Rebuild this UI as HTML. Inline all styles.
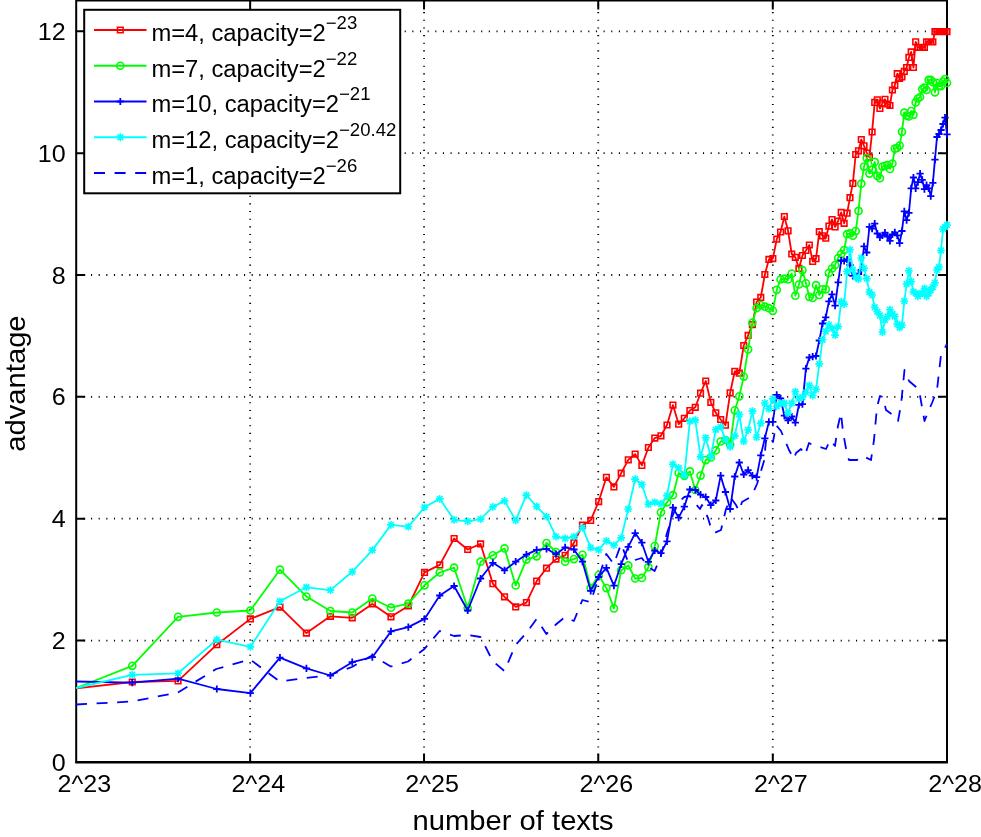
<!DOCTYPE html><html><head><meta charset="utf-8"><style>html,body{margin:0;padding:0;background:#fff;}svg{display:block;will-change:transform;}text{font-family:"Liberation Sans",sans-serif;}</style></head><body>
<svg width="981" height="837" viewBox="0 0 981 837">
<rect x="0" y="0" width="981" height="837" fill="#fff"/>
<path d="M75.70 640.55H947.00M75.70 518.70H947.00M75.70 396.85H947.00M75.70 275.00H947.00M75.70 153.15H947.00M75.70 31.30H947.00M250.15 762.90V0.60M424.05 762.90V0.60M598.25 762.90V0.60M772.80 762.90V0.60" stroke="#000" stroke-width="1.8" stroke-dasharray="1.1 6.55" fill="none"/>
<path d="M76.20 640.55h9M947.00 640.55h-9M76.20 518.70h9M947.00 518.70h-9M76.20 396.85h9M947.00 396.85h-9M76.20 275.00h9M947.00 275.00h-9M76.20 153.15h9M947.00 153.15h-9M76.20 31.30h9M947.00 31.30h-9M250.15 762.40v-9M250.15 0.60v9M424.05 762.40v-9M424.05 0.60v9M598.25 762.40v-9M598.25 0.60v9M772.80 762.40v-9M772.80 0.60v9" stroke="#000" stroke-width="2" fill="none"/>
<path d="M76.20 -0.40V762.40M947.00 -0.40V762.40M75.20 0.60H948.00" stroke="#000" stroke-width="2" fill="none"/>
<path d="M75.20 762.2H947.90" stroke="#000" stroke-width="2.5" fill="none"/>
<text transform="translate(65.6,770.99) scale(1.046,1)" font-size="24" text-anchor="end">0</text>
<text transform="translate(65.6,649.14) scale(1.046,1)" font-size="24" text-anchor="end">2</text>
<text transform="translate(65.6,527.29) scale(1.046,1)" font-size="24" text-anchor="end">4</text>
<text transform="translate(65.6,405.44) scale(1.046,1)" font-size="24" text-anchor="end">6</text>
<text transform="translate(65.6,283.59) scale(1.046,1)" font-size="24" text-anchor="end">8</text>
<text transform="translate(65.6,161.74) scale(1.046,1)" font-size="24" text-anchor="end">10</text>
<text transform="translate(65.6,39.89) scale(1.046,1)" font-size="24" text-anchor="end">12</text>
<text transform="translate(57.50,792) scale(1.046,1)" font-size="24">2^23</text>
<text transform="translate(231.45,792) scale(1.046,1)" font-size="24">2^24</text>
<text transform="translate(405.35,792) scale(1.046,1)" font-size="24">2^25</text>
<text transform="translate(579.55,792) scale(1.046,1)" font-size="24">2^26</text>
<text transform="translate(754.10,792) scale(1.046,1)" font-size="24">2^27</text>
<text transform="translate(928.30,792) scale(1.046,1)" font-size="24">2^28</text>
<text transform="translate(513.1,830) scale(1.035,1)" font-size="28.2" text-anchor="middle">number of texts</text>
<text transform="translate(25,383.55) rotate(-90) scale(1.035,1)" font-size="28.2" text-anchor="middle">advantage</text>
<polyline points="76.20,688.40 132.27,682.00 178.08,680.90 216.81,644.70 250.36,618.90 279.95,607.10 306.43,633.10 330.37,616.30 352.24,617.80 372.35,603.90 390.97,616.80 408.30,606.00 424.52,572.40 439.75,564.90 454.11,538.50 467.70,549.50 480.59,543.90 492.85,583.70 504.53,596.80 515.70,606.90 526.40,602.60 536.65,581.10 546.51,568.20 555.99,559.10 565.13,555.30 573.95,542.80 582.46,525.20 590.70,520.40 598.68,501.60 606.41,477.30 613.91,486.90 621.20,473.20 628.27,459.80 635.16,454.10 641.86,465.40 648.39,447.50 654.75,438.10 660.95,435.80 667.01,425.00 672.92,405.10 678.69,424.20 684.34,418.30 689.86,410.50 695.27,407.30 700.56,393.20 705.74,381.00 710.81,402.30 715.79,412.80 720.67,419.50 725.45,425.20 730.15,392.80 734.76,371.30 739.29,373.20 743.74,345.50 748.11,335.40 752.40,324.60 756.62,302.00 760.78,297.40 764.86,274.50 768.88,259.40 772.84,258.60 776.74,239.20 780.57,232.00 784.35,216.50 788.07,230.80 791.74,254.00 795.36,257.30 798.92,268.40 802.43,255.50 805.90,250.50 809.32,245.00 812.69,261.40 816.02,258.70 819.30,231.70 822.55,235.80 825.75,238.20 828.91,226.10 832.03,219.50 835.11,226.90 838.16,221.00 841.17,212.40 844.14,223.30 847.08,213.20 849.98,197.70 852.85,183.40 855.69,154.50 858.50,150.80 861.28,139.50 864.02,145.80 866.74,153.00 869.43,157.30 872.09,132.00 874.72,102.40 877.32,99.80 879.90,108.50 882.45,103.20 884.97,99.30 887.47,104.00 889.95,105.50 892.40,90.00 894.83,85.30 897.23,73.70 899.61,78.30 901.97,76.80 904.31,71.40 906.63,67.50 908.92,57.40 911.20,51.90 913.45,67.50 915.68,41.80 917.90,47.30 920.09,47.30 922.27,47.30 924.42,47.30 926.56,41.80 928.68,41.80 930.78,41.80 932.87,41.80 934.94,31.70 936.99,31.70 939.02,31.70 941.04,31.70 943.04,31.70 945.03,31.70 947.00,31.70" fill="none" stroke="#ff0000" stroke-width="1.8" stroke-linejoin="round" stroke-linecap="butt" />
<path d="M129.47 679.20h5.6v5.6h-5.6zM175.28 678.10h5.6v5.6h-5.6zM214.01 641.90h5.6v5.6h-5.6zM247.56 616.10h5.6v5.6h-5.6zM277.15 604.30h5.6v5.6h-5.6zM303.63 630.30h5.6v5.6h-5.6zM327.57 613.50h5.6v5.6h-5.6zM349.44 615.00h5.6v5.6h-5.6zM369.55 601.10h5.6v5.6h-5.6zM388.17 614.00h5.6v5.6h-5.6zM405.50 603.20h5.6v5.6h-5.6zM421.72 569.60h5.6v5.6h-5.6zM436.95 562.10h5.6v5.6h-5.6zM451.31 535.70h5.6v5.6h-5.6zM464.90 546.70h5.6v5.6h-5.6zM477.79 541.10h5.6v5.6h-5.6zM490.05 580.90h5.6v5.6h-5.6zM501.73 594.00h5.6v5.6h-5.6zM512.90 604.10h5.6v5.6h-5.6zM523.60 599.80h5.6v5.6h-5.6zM533.85 578.30h5.6v5.6h-5.6zM543.71 565.40h5.6v5.6h-5.6zM553.19 556.30h5.6v5.6h-5.6zM562.33 552.50h5.6v5.6h-5.6zM571.15 540.00h5.6v5.6h-5.6zM579.66 522.40h5.6v5.6h-5.6zM587.90 517.60h5.6v5.6h-5.6zM595.88 498.80h5.6v5.6h-5.6zM603.61 474.50h5.6v5.6h-5.6zM611.11 484.10h5.6v5.6h-5.6zM618.40 470.40h5.6v5.6h-5.6zM625.47 457.00h5.6v5.6h-5.6zM632.36 451.30h5.6v5.6h-5.6zM639.06 462.60h5.6v5.6h-5.6zM645.59 444.70h5.6v5.6h-5.6zM651.95 435.30h5.6v5.6h-5.6zM658.15 433.00h5.6v5.6h-5.6zM664.21 422.20h5.6v5.6h-5.6zM670.12 402.30h5.6v5.6h-5.6zM675.89 421.40h5.6v5.6h-5.6zM681.54 415.50h5.6v5.6h-5.6zM687.06 407.70h5.6v5.6h-5.6zM692.47 404.50h5.6v5.6h-5.6zM697.76 390.40h5.6v5.6h-5.6zM702.94 378.20h5.6v5.6h-5.6zM708.01 399.50h5.6v5.6h-5.6zM712.99 410.00h5.6v5.6h-5.6zM717.87 416.70h5.6v5.6h-5.6zM722.65 422.40h5.6v5.6h-5.6zM727.35 390.00h5.6v5.6h-5.6zM731.96 368.50h5.6v5.6h-5.6zM736.49 370.40h5.6v5.6h-5.6zM740.94 342.70h5.6v5.6h-5.6zM745.31 332.60h5.6v5.6h-5.6zM749.60 321.80h5.6v5.6h-5.6zM753.82 299.20h5.6v5.6h-5.6zM757.98 294.60h5.6v5.6h-5.6zM762.06 271.70h5.6v5.6h-5.6zM766.08 256.60h5.6v5.6h-5.6zM770.04 255.80h5.6v5.6h-5.6zM773.94 236.40h5.6v5.6h-5.6zM777.77 229.20h5.6v5.6h-5.6zM781.55 213.70h5.6v5.6h-5.6zM785.27 228.00h5.6v5.6h-5.6zM788.94 251.20h5.6v5.6h-5.6zM792.56 254.50h5.6v5.6h-5.6zM796.12 265.60h5.6v5.6h-5.6zM799.63 252.70h5.6v5.6h-5.6zM803.10 247.70h5.6v5.6h-5.6zM806.52 242.20h5.6v5.6h-5.6zM809.89 258.60h5.6v5.6h-5.6zM813.22 255.90h5.6v5.6h-5.6zM816.50 228.90h5.6v5.6h-5.6zM819.75 233.00h5.6v5.6h-5.6zM822.95 235.40h5.6v5.6h-5.6zM826.11 223.30h5.6v5.6h-5.6zM829.23 216.70h5.6v5.6h-5.6zM832.31 224.10h5.6v5.6h-5.6zM835.36 218.20h5.6v5.6h-5.6zM838.37 209.60h5.6v5.6h-5.6zM841.34 220.50h5.6v5.6h-5.6zM844.28 210.40h5.6v5.6h-5.6zM847.18 194.90h5.6v5.6h-5.6zM850.05 180.60h5.6v5.6h-5.6zM852.89 151.70h5.6v5.6h-5.6zM855.70 148.00h5.6v5.6h-5.6zM858.48 136.70h5.6v5.6h-5.6zM861.22 143.00h5.6v5.6h-5.6zM863.94 150.20h5.6v5.6h-5.6zM866.63 154.50h5.6v5.6h-5.6zM869.29 129.20h5.6v5.6h-5.6zM871.92 99.60h5.6v5.6h-5.6zM874.52 97.00h5.6v5.6h-5.6zM877.10 105.70h5.6v5.6h-5.6zM879.65 100.40h5.6v5.6h-5.6zM882.17 96.50h5.6v5.6h-5.6zM884.67 101.20h5.6v5.6h-5.6zM887.15 102.70h5.6v5.6h-5.6zM889.60 87.20h5.6v5.6h-5.6zM892.03 82.50h5.6v5.6h-5.6zM894.43 70.90h5.6v5.6h-5.6zM896.81 75.50h5.6v5.6h-5.6zM899.17 74.00h5.6v5.6h-5.6zM901.51 68.60h5.6v5.6h-5.6zM903.83 64.70h5.6v5.6h-5.6zM906.12 54.60h5.6v5.6h-5.6zM908.40 49.10h5.6v5.6h-5.6zM910.65 64.70h5.6v5.6h-5.6zM912.88 39.00h5.6v5.6h-5.6zM915.10 44.50h5.6v5.6h-5.6zM917.29 44.50h5.6v5.6h-5.6zM919.47 44.50h5.6v5.6h-5.6zM921.62 44.50h5.6v5.6h-5.6zM923.76 39.00h5.6v5.6h-5.6zM925.88 39.00h5.6v5.6h-5.6zM927.98 39.00h5.6v5.6h-5.6zM930.07 39.00h5.6v5.6h-5.6zM932.14 28.90h5.6v5.6h-5.6zM934.19 28.90h5.6v5.6h-5.6zM936.22 28.90h5.6v5.6h-5.6zM938.24 28.90h5.6v5.6h-5.6zM940.24 28.90h5.6v5.6h-5.6zM942.23 28.90h5.6v5.6h-5.6zM944.20 28.90h5.6v5.6h-5.6z" fill="none" stroke="#ff0000" stroke-width="1.6"/>
<polyline points="76.20,688.00 132.27,665.80 178.08,616.80 216.81,612.50 250.36,610.50 279.95,569.70 306.43,596.60 330.37,611.00 352.24,612.50 372.35,598.50 390.97,607.70 408.30,603.70 424.52,585.30 439.75,572.50 454.11,567.70 467.70,608.00 480.59,561.70 492.85,555.30 504.53,548.40 515.70,585.40 526.40,559.60 536.65,556.30 546.51,543.00 555.99,552.00 565.13,561.70 573.95,559.10 582.46,554.80 590.70,588.00 598.68,575.00 606.41,588.10 613.91,608.40 621.20,570.20 628.27,565.40 635.16,578.50 641.86,577.90 648.39,567.20 654.75,546.00 660.95,512.30 667.01,502.30 672.92,495.20 678.69,473.00 684.34,475.80 689.86,471.40 695.27,490.00 700.56,475.60 705.74,460.10 710.81,457.40 715.79,450.40 720.67,441.50 725.45,440.00 730.15,444.60 734.76,410.30 739.29,396.30 743.74,376.60 748.11,349.40 752.40,322.70 756.62,308.20 760.78,305.10 764.86,306.70 768.88,308.20 772.84,310.80 776.74,289.80 780.57,279.50 784.35,278.70 788.07,279.50 791.74,273.60 795.36,295.70 798.92,284.50 802.43,270.20 805.90,283.30 809.32,296.80 812.69,298.00 816.02,285.20 819.30,295.00 822.55,289.30 825.75,289.30 828.91,273.00 832.03,268.50 835.11,265.00 838.16,258.00 841.17,254.00 844.14,250.00 847.08,234.20 849.98,233.40 852.85,235.70 855.69,231.10 858.50,210.90 861.28,183.70 864.02,166.60 866.74,158.10 869.43,173.60 872.09,169.70 874.72,161.90 877.32,175.90 879.90,178.20 882.45,166.60 884.97,165.80 887.47,165.00 889.95,168.90 892.40,163.50 894.83,148.70 897.23,148.00 899.61,145.60 901.97,131.80 904.31,112.70 906.63,115.60 908.92,116.40 911.20,111.00 913.45,114.80 915.68,102.40 917.90,98.50 920.09,97.00 922.27,89.20 924.42,87.70 926.56,90.00 928.68,79.90 930.78,79.90 932.87,82.20 934.94,92.30 936.99,83.00 939.02,86.10 941.04,86.10 943.04,81.50 945.03,79.10 947.00,83.00" fill="none" stroke="#00ff00" stroke-width="1.8" stroke-linejoin="round" stroke-linecap="butt" />
<g fill="none" stroke="#00ff00" stroke-width="1.6"><circle cx="132.27" cy="665.80" r="3.55"/><circle cx="178.08" cy="616.80" r="3.55"/><circle cx="216.81" cy="612.50" r="3.55"/><circle cx="250.36" cy="610.50" r="3.55"/><circle cx="279.95" cy="569.70" r="3.55"/><circle cx="306.43" cy="596.60" r="3.55"/><circle cx="330.37" cy="611.00" r="3.55"/><circle cx="352.24" cy="612.50" r="3.55"/><circle cx="372.35" cy="598.50" r="3.55"/><circle cx="390.97" cy="607.70" r="3.55"/><circle cx="408.30" cy="603.70" r="3.55"/><circle cx="424.52" cy="585.30" r="3.55"/><circle cx="439.75" cy="572.50" r="3.55"/><circle cx="454.11" cy="567.70" r="3.55"/><circle cx="467.70" cy="608.00" r="3.55"/><circle cx="480.59" cy="561.70" r="3.55"/><circle cx="492.85" cy="555.30" r="3.55"/><circle cx="504.53" cy="548.40" r="3.55"/><circle cx="515.70" cy="585.40" r="3.55"/><circle cx="526.40" cy="559.60" r="3.55"/><circle cx="536.65" cy="556.30" r="3.55"/><circle cx="546.51" cy="543.00" r="3.55"/><circle cx="555.99" cy="552.00" r="3.55"/><circle cx="565.13" cy="561.70" r="3.55"/><circle cx="573.95" cy="559.10" r="3.55"/><circle cx="582.46" cy="554.80" r="3.55"/><circle cx="590.70" cy="588.00" r="3.55"/><circle cx="598.68" cy="575.00" r="3.55"/><circle cx="606.41" cy="588.10" r="3.55"/><circle cx="613.91" cy="608.40" r="3.55"/><circle cx="621.20" cy="570.20" r="3.55"/><circle cx="628.27" cy="565.40" r="3.55"/><circle cx="635.16" cy="578.50" r="3.55"/><circle cx="641.86" cy="577.90" r="3.55"/><circle cx="648.39" cy="567.20" r="3.55"/><circle cx="654.75" cy="546.00" r="3.55"/><circle cx="660.95" cy="512.30" r="3.55"/><circle cx="667.01" cy="502.30" r="3.55"/><circle cx="672.92" cy="495.20" r="3.55"/><circle cx="678.69" cy="473.00" r="3.55"/><circle cx="684.34" cy="475.80" r="3.55"/><circle cx="689.86" cy="471.40" r="3.55"/><circle cx="695.27" cy="490.00" r="3.55"/><circle cx="700.56" cy="475.60" r="3.55"/><circle cx="705.74" cy="460.10" r="3.55"/><circle cx="710.81" cy="457.40" r="3.55"/><circle cx="715.79" cy="450.40" r="3.55"/><circle cx="720.67" cy="441.50" r="3.55"/><circle cx="725.45" cy="440.00" r="3.55"/><circle cx="730.15" cy="444.60" r="3.55"/><circle cx="734.76" cy="410.30" r="3.55"/><circle cx="739.29" cy="396.30" r="3.55"/><circle cx="743.74" cy="376.60" r="3.55"/><circle cx="748.11" cy="349.40" r="3.55"/><circle cx="752.40" cy="322.70" r="3.55"/><circle cx="756.62" cy="308.20" r="3.55"/><circle cx="760.78" cy="305.10" r="3.55"/><circle cx="764.86" cy="306.70" r="3.55"/><circle cx="768.88" cy="308.20" r="3.55"/><circle cx="772.84" cy="310.80" r="3.55"/><circle cx="776.74" cy="289.80" r="3.55"/><circle cx="780.57" cy="279.50" r="3.55"/><circle cx="784.35" cy="278.70" r="3.55"/><circle cx="788.07" cy="279.50" r="3.55"/><circle cx="791.74" cy="273.60" r="3.55"/><circle cx="795.36" cy="295.70" r="3.55"/><circle cx="798.92" cy="284.50" r="3.55"/><circle cx="802.43" cy="270.20" r="3.55"/><circle cx="805.90" cy="283.30" r="3.55"/><circle cx="809.32" cy="296.80" r="3.55"/><circle cx="812.69" cy="298.00" r="3.55"/><circle cx="816.02" cy="285.20" r="3.55"/><circle cx="819.30" cy="295.00" r="3.55"/><circle cx="822.55" cy="289.30" r="3.55"/><circle cx="825.75" cy="289.30" r="3.55"/><circle cx="828.91" cy="273.00" r="3.55"/><circle cx="832.03" cy="268.50" r="3.55"/><circle cx="835.11" cy="265.00" r="3.55"/><circle cx="838.16" cy="258.00" r="3.55"/><circle cx="841.17" cy="254.00" r="3.55"/><circle cx="844.14" cy="250.00" r="3.55"/><circle cx="847.08" cy="234.20" r="3.55"/><circle cx="849.98" cy="233.40" r="3.55"/><circle cx="852.85" cy="235.70" r="3.55"/><circle cx="855.69" cy="231.10" r="3.55"/><circle cx="858.50" cy="210.90" r="3.55"/><circle cx="861.28" cy="183.70" r="3.55"/><circle cx="864.02" cy="166.60" r="3.55"/><circle cx="866.74" cy="158.10" r="3.55"/><circle cx="869.43" cy="173.60" r="3.55"/><circle cx="872.09" cy="169.70" r="3.55"/><circle cx="874.72" cy="161.90" r="3.55"/><circle cx="877.32" cy="175.90" r="3.55"/><circle cx="879.90" cy="178.20" r="3.55"/><circle cx="882.45" cy="166.60" r="3.55"/><circle cx="884.97" cy="165.80" r="3.55"/><circle cx="887.47" cy="165.00" r="3.55"/><circle cx="889.95" cy="168.90" r="3.55"/><circle cx="892.40" cy="163.50" r="3.55"/><circle cx="894.83" cy="148.70" r="3.55"/><circle cx="897.23" cy="148.00" r="3.55"/><circle cx="899.61" cy="145.60" r="3.55"/><circle cx="901.97" cy="131.80" r="3.55"/><circle cx="904.31" cy="112.70" r="3.55"/><circle cx="906.63" cy="115.60" r="3.55"/><circle cx="908.92" cy="116.40" r="3.55"/><circle cx="911.20" cy="111.00" r="3.55"/><circle cx="913.45" cy="114.80" r="3.55"/><circle cx="915.68" cy="102.40" r="3.55"/><circle cx="917.90" cy="98.50" r="3.55"/><circle cx="920.09" cy="97.00" r="3.55"/><circle cx="922.27" cy="89.20" r="3.55"/><circle cx="924.42" cy="87.70" r="3.55"/><circle cx="926.56" cy="90.00" r="3.55"/><circle cx="928.68" cy="79.90" r="3.55"/><circle cx="930.78" cy="79.90" r="3.55"/><circle cx="932.87" cy="82.20" r="3.55"/><circle cx="934.94" cy="92.30" r="3.55"/><circle cx="936.99" cy="83.00" r="3.55"/><circle cx="939.02" cy="86.10" r="3.55"/><circle cx="941.04" cy="86.10" r="3.55"/><circle cx="943.04" cy="81.50" r="3.55"/><circle cx="945.03" cy="79.10" r="3.55"/><circle cx="947.00" cy="83.00" r="3.55"/></g>
<polyline points="76.20,681.50 132.27,682.60 178.08,678.70 216.81,689.00 250.36,693.10 279.95,657.60 306.43,668.40 330.37,675.50 352.24,662.20 372.35,657.20 390.97,631.40 408.30,627.10 424.52,618.90 439.75,595.50 454.11,586.00 467.70,610.50 480.59,578.50 492.85,562.80 504.53,570.30 515.70,561.70 526.40,554.60 536.65,549.90 546.51,548.80 555.99,554.20 565.13,547.30 573.95,549.50 582.46,561.70 590.70,590.80 598.68,577.00 606.41,567.80 613.91,585.70 621.20,564.20 628.27,546.90 635.16,533.10 641.86,542.70 648.39,561.80 654.75,550.50 660.95,553.20 667.01,541.30 672.92,507.70 678.69,517.60 684.34,506.60 689.86,489.50 695.27,490.00 700.56,494.70 705.74,497.00 710.81,505.20 715.79,500.50 720.67,475.70 725.45,492.00 730.15,509.00 734.76,476.50 739.29,462.50 743.74,474.50 748.11,470.10 752.40,475.70 756.62,477.20 760.78,455.30 764.86,438.30 768.88,421.90 772.84,421.90 776.74,394.80 780.57,398.30 784.35,415.70 788.07,420.40 791.74,416.50 795.36,422.70 798.92,404.80 802.43,404.20 805.90,368.60 809.32,357.50 812.69,356.60 816.02,356.00 819.30,340.50 822.55,323.50 825.75,317.30 828.91,301.40 832.03,294.40 835.11,305.60 838.16,282.30 841.17,260.50 844.14,261.00 847.08,259.50 849.98,265.00 852.85,275.80 855.69,276.00 858.50,274.00 861.28,270.00 864.02,246.30 866.74,252.50 869.43,226.80 872.09,228.70 874.72,223.70 877.32,233.50 879.90,237.30 882.45,235.30 884.97,232.60 887.47,236.50 889.95,240.80 892.40,234.50 894.83,232.30 897.23,235.30 899.61,243.10 901.97,231.00 904.31,211.30 906.63,220.20 908.92,212.80 911.20,188.30 913.45,177.50 915.68,188.30 917.90,182.10 920.09,173.60 922.27,179.80 924.42,189.10 926.56,185.20 928.68,188.30 930.78,196.10 932.87,182.90 934.94,159.60 936.99,137.00 939.02,134.00 941.04,130.00 943.04,124.00 945.03,117.60 947.00,134.40" fill="none" stroke="#0000ff" stroke-width="1.8" stroke-linejoin="round" stroke-linecap="butt" />
<path d="M128.67 682.60h7.2M132.27 679.00v7.2M174.48 678.70h7.2M178.08 675.10v7.2M213.21 689.00h7.2M216.81 685.40v7.2M246.76 693.10h7.2M250.36 689.50v7.2M276.35 657.60h7.2M279.95 654.00v7.2M302.83 668.40h7.2M306.43 664.80v7.2M326.77 675.50h7.2M330.37 671.90v7.2M348.64 662.20h7.2M352.24 658.60v7.2M368.75 657.20h7.2M372.35 653.60v7.2M387.37 631.40h7.2M390.97 627.80v7.2M404.70 627.10h7.2M408.30 623.50v7.2M420.92 618.90h7.2M424.52 615.30v7.2M436.15 595.50h7.2M439.75 591.90v7.2M450.51 586.00h7.2M454.11 582.40v7.2M464.10 610.50h7.2M467.70 606.90v7.2M476.99 578.50h7.2M480.59 574.90v7.2M489.25 562.80h7.2M492.85 559.20v7.2M500.93 570.30h7.2M504.53 566.70v7.2M512.10 561.70h7.2M515.70 558.10v7.2M522.80 554.60h7.2M526.40 551.00v7.2M533.05 549.90h7.2M536.65 546.30v7.2M542.91 548.80h7.2M546.51 545.20v7.2M552.39 554.20h7.2M555.99 550.60v7.2M561.53 547.30h7.2M565.13 543.70v7.2M570.35 549.50h7.2M573.95 545.90v7.2M578.86 561.70h7.2M582.46 558.10v7.2M587.10 590.80h7.2M590.70 587.20v7.2M595.08 577.00h7.2M598.68 573.40v7.2M602.81 567.80h7.2M606.41 564.20v7.2M610.31 585.70h7.2M613.91 582.10v7.2M617.60 564.20h7.2M621.20 560.60v7.2M624.67 546.90h7.2M628.27 543.30v7.2M631.56 533.10h7.2M635.16 529.50v7.2M638.26 542.70h7.2M641.86 539.10v7.2M644.79 561.80h7.2M648.39 558.20v7.2M651.15 550.50h7.2M654.75 546.90v7.2M657.35 553.20h7.2M660.95 549.60v7.2M663.41 541.30h7.2M667.01 537.70v7.2M669.32 507.70h7.2M672.92 504.10v7.2M675.09 517.60h7.2M678.69 514.00v7.2M680.74 506.60h7.2M684.34 503.00v7.2M686.26 489.50h7.2M689.86 485.90v7.2M691.67 490.00h7.2M695.27 486.40v7.2M696.96 494.70h7.2M700.56 491.10v7.2M702.14 497.00h7.2M705.74 493.40v7.2M707.21 505.20h7.2M710.81 501.60v7.2M712.19 500.50h7.2M715.79 496.90v7.2M717.07 475.70h7.2M720.67 472.10v7.2M721.85 492.00h7.2M725.45 488.40v7.2M726.55 509.00h7.2M730.15 505.40v7.2M731.16 476.50h7.2M734.76 472.90v7.2M735.69 462.50h7.2M739.29 458.90v7.2M740.14 474.50h7.2M743.74 470.90v7.2M744.51 470.10h7.2M748.11 466.50v7.2M748.80 475.70h7.2M752.40 472.10v7.2M753.02 477.20h7.2M756.62 473.60v7.2M757.18 455.30h7.2M760.78 451.70v7.2M761.26 438.30h7.2M764.86 434.70v7.2M765.28 421.90h7.2M768.88 418.30v7.2M769.24 421.90h7.2M772.84 418.30v7.2M773.14 394.80h7.2M776.74 391.20v7.2M776.97 398.30h7.2M780.57 394.70v7.2M780.75 415.70h7.2M784.35 412.10v7.2M784.47 420.40h7.2M788.07 416.80v7.2M788.14 416.50h7.2M791.74 412.90v7.2M791.76 422.70h7.2M795.36 419.10v7.2M795.32 404.80h7.2M798.92 401.20v7.2M798.83 404.20h7.2M802.43 400.60v7.2M802.30 368.60h7.2M805.90 365.00v7.2M805.72 357.50h7.2M809.32 353.90v7.2M809.09 356.60h7.2M812.69 353.00v7.2M812.42 356.00h7.2M816.02 352.40v7.2M815.70 340.50h7.2M819.30 336.90v7.2M818.95 323.50h7.2M822.55 319.90v7.2M822.15 317.30h7.2M825.75 313.70v7.2M825.31 301.40h7.2M828.91 297.80v7.2M828.43 294.40h7.2M832.03 290.80v7.2M831.51 305.60h7.2M835.11 302.00v7.2M834.56 282.30h7.2M838.16 278.70v7.2M837.57 260.50h7.2M841.17 256.90v7.2M840.54 261.00h7.2M844.14 257.40v7.2M843.48 259.50h7.2M847.08 255.90v7.2M846.38 265.00h7.2M849.98 261.40v7.2M849.25 275.80h7.2M852.85 272.20v7.2M852.09 276.00h7.2M855.69 272.40v7.2M854.90 274.00h7.2M858.50 270.40v7.2M857.68 270.00h7.2M861.28 266.40v7.2M860.42 246.30h7.2M864.02 242.70v7.2M863.14 252.50h7.2M866.74 248.90v7.2M865.83 226.80h7.2M869.43 223.20v7.2M868.49 228.70h7.2M872.09 225.10v7.2M871.12 223.70h7.2M874.72 220.10v7.2M873.72 233.50h7.2M877.32 229.90v7.2M876.30 237.30h7.2M879.90 233.70v7.2M878.85 235.30h7.2M882.45 231.70v7.2M881.37 232.60h7.2M884.97 229.00v7.2M883.87 236.50h7.2M887.47 232.90v7.2M886.35 240.80h7.2M889.95 237.20v7.2M888.80 234.50h7.2M892.40 230.90v7.2M891.23 232.30h7.2M894.83 228.70v7.2M893.63 235.30h7.2M897.23 231.70v7.2M896.01 243.10h7.2M899.61 239.50v7.2M898.37 231.00h7.2M901.97 227.40v7.2M900.71 211.30h7.2M904.31 207.70v7.2M903.03 220.20h7.2M906.63 216.60v7.2M905.32 212.80h7.2M908.92 209.20v7.2M907.60 188.30h7.2M911.20 184.70v7.2M909.85 177.50h7.2M913.45 173.90v7.2M912.08 188.30h7.2M915.68 184.70v7.2M914.30 182.10h7.2M917.90 178.50v7.2M916.49 173.60h7.2M920.09 170.00v7.2M918.67 179.80h7.2M922.27 176.20v7.2M920.82 189.10h7.2M924.42 185.50v7.2M922.96 185.20h7.2M926.56 181.60v7.2M925.08 188.30h7.2M928.68 184.70v7.2M927.18 196.10h7.2M930.78 192.50v7.2M929.27 182.90h7.2M932.87 179.30v7.2M931.34 159.60h7.2M934.94 156.00v7.2M933.39 137.00h7.2M936.99 133.40v7.2M935.42 134.00h7.2M939.02 130.40v7.2M937.44 130.00h7.2M941.04 126.40v7.2M939.44 124.00h7.2M943.04 120.40v7.2M941.43 117.60h7.2M945.03 114.00v7.2M943.40 134.40h7.2M947.00 130.80v7.2" fill="none" stroke="#0000ff" stroke-width="1.8"/>
<polyline points="76.20,688.00 132.27,674.80 178.08,673.30 216.81,639.60 250.36,646.90 279.95,601.30 306.43,587.30 330.37,590.10 352.24,571.80 372.35,550.10 390.97,524.90 408.30,526.70 424.52,507.30 439.75,498.90 454.11,519.80 467.70,521.30 480.59,519.10 492.85,506.90 504.53,500.90 515.70,520.40 526.40,495.10 536.65,506.50 546.51,516.60 555.99,536.60 565.13,538.50 573.95,536.60 582.46,527.70 590.70,547.70 598.68,549.90 606.41,540.90 613.91,545.10 621.20,537.90 628.27,509.00 635.16,479.10 641.86,484.50 648.39,504.20 654.75,502.30 660.95,503.70 667.01,495.60 672.92,464.20 678.69,468.00 684.34,475.60 689.86,421.20 695.27,420.10 700.56,456.90 705.74,437.80 710.81,456.60 715.79,429.70 720.67,426.60 725.45,439.80 730.15,446.80 734.76,435.90 739.29,414.50 743.74,441.40 748.11,430.00 752.40,411.10 756.62,437.20 760.78,423.20 764.86,403.00 768.88,408.70 772.84,398.90 776.74,406.40 780.57,403.30 784.35,403.30 788.07,413.40 791.74,403.30 795.36,391.60 798.92,398.60 802.43,397.10 805.90,392.40 809.32,385.40 812.69,395.50 816.02,389.30 819.30,363.90 822.55,339.80 825.75,331.30 828.91,325.00 832.03,328.20 835.11,335.10 838.16,326.60 841.17,301.70 844.14,304.10 847.08,271.50 849.98,249.70 852.85,270.00 855.69,277.00 858.50,279.00 861.28,258.00 864.02,268.20 866.74,278.60 869.43,292.00 872.09,295.00 874.72,307.30 877.32,311.70 879.90,315.50 882.45,332.00 884.97,320.00 887.47,316.50 889.95,309.70 892.40,314.00 894.83,316.50 897.23,324.00 899.61,327.50 901.97,325.00 904.31,301.00 906.63,284.00 908.92,270.70 911.20,281.50 913.45,291.60 915.68,293.20 917.90,296.30 920.09,294.00 922.27,293.20 924.42,288.50 926.56,296.30 928.68,293.20 930.78,290.00 932.87,287.00 934.94,282.70 936.99,270.00 939.02,267.00 941.04,250.50 943.04,229.00 945.03,227.00 947.00,225.00" fill="none" stroke="#00ffff" stroke-width="1.8" stroke-linejoin="round" stroke-linecap="butt" />
<path d="M128.37 674.80h7.8M132.27 670.90v7.8M129.38 671.91l5.77 5.77M129.38 677.69l5.77 -5.77M174.18 673.30h7.8M178.08 669.40v7.8M175.19 670.41l5.77 5.77M175.19 676.19l5.77 -5.77M212.91 639.60h7.8M216.81 635.70v7.8M213.92 636.71l5.77 5.77M213.92 642.49l5.77 -5.77M246.46 646.90h7.8M250.36 643.00v7.8M247.47 644.01l5.77 5.77M247.47 649.79l5.77 -5.77M276.05 601.30h7.8M279.95 597.40v7.8M277.07 598.41l5.77 5.77M277.07 604.19l5.77 -5.77M302.53 587.30h7.8M306.43 583.40v7.8M303.54 584.41l5.77 5.77M303.54 590.19l5.77 -5.77M326.47 590.10h7.8M330.37 586.20v7.8M327.49 587.21l5.77 5.77M327.49 592.99l5.77 -5.77M348.34 571.80h7.8M352.24 567.90v7.8M349.35 568.91l5.77 5.77M349.35 574.69l5.77 -5.77M368.45 550.10h7.8M372.35 546.20v7.8M369.46 547.21l5.77 5.77M369.46 552.99l5.77 -5.77M387.07 524.90h7.8M390.97 521.00v7.8M388.08 522.01l5.77 5.77M388.08 527.79l5.77 -5.77M404.40 526.70h7.8M408.30 522.80v7.8M405.42 523.81l5.77 5.77M405.42 529.59l5.77 -5.77M420.62 507.30h7.8M424.52 503.40v7.8M421.63 504.41l5.77 5.77M421.63 510.19l5.77 -5.77M435.85 498.90h7.8M439.75 495.00v7.8M436.87 496.01l5.77 5.77M436.87 501.79l5.77 -5.77M450.21 519.80h7.8M454.11 515.90v7.8M451.23 516.91l5.77 5.77M451.23 522.69l5.77 -5.77M463.80 521.30h7.8M467.70 517.40v7.8M464.81 518.41l5.77 5.77M464.81 524.19l5.77 -5.77M476.69 519.10h7.8M480.59 515.20v7.8M477.70 516.21l5.77 5.77M477.70 521.99l5.77 -5.77M488.95 506.90h7.8M492.85 503.00v7.8M489.96 504.01l5.77 5.77M489.96 509.79l5.77 -5.77M500.63 500.90h7.8M504.53 497.00v7.8M501.65 498.01l5.77 5.77M501.65 503.79l5.77 -5.77M511.80 520.40h7.8M515.70 516.50v7.8M512.82 517.51l5.77 5.77M512.82 523.29l5.77 -5.77M522.50 495.10h7.8M526.40 491.20v7.8M523.51 492.21l5.77 5.77M523.51 497.99l5.77 -5.77M532.75 506.50h7.8M536.65 502.60v7.8M533.77 503.61l5.77 5.77M533.77 509.39l5.77 -5.77M542.61 516.60h7.8M546.51 512.70v7.8M543.62 513.71l5.77 5.77M543.62 519.49l5.77 -5.77M552.09 536.60h7.8M555.99 532.70v7.8M553.11 533.71l5.77 5.77M553.11 539.49l5.77 -5.77M561.23 538.50h7.8M565.13 534.60v7.8M562.24 535.61l5.77 5.77M562.24 541.39l5.77 -5.77M570.05 536.60h7.8M573.95 532.70v7.8M571.06 533.71l5.77 5.77M571.06 539.49l5.77 -5.77M578.56 527.70h7.8M582.46 523.80v7.8M579.58 524.81l5.77 5.77M579.58 530.59l5.77 -5.77M586.80 547.70h7.8M590.70 543.80v7.8M587.82 544.81l5.77 5.77M587.82 550.59l5.77 -5.77M594.78 549.90h7.8M598.68 546.00v7.8M595.79 547.01l5.77 5.77M595.79 552.79l5.77 -5.77M602.51 540.90h7.8M606.41 537.00v7.8M603.53 538.01l5.77 5.77M603.53 543.79l5.77 -5.77M610.01 545.10h7.8M613.91 541.20v7.8M611.03 542.21l5.77 5.77M611.03 547.99l5.77 -5.77M617.30 537.90h7.8M621.20 534.00v7.8M618.31 535.01l5.77 5.77M618.31 540.79l5.77 -5.77M624.37 509.00h7.8M628.27 505.10v7.8M625.39 506.11l5.77 5.77M625.39 511.89l5.77 -5.77M631.26 479.10h7.8M635.16 475.20v7.8M632.27 476.21l5.77 5.77M632.27 481.99l5.77 -5.77M637.96 484.50h7.8M641.86 480.60v7.8M638.97 481.61l5.77 5.77M638.97 487.39l5.77 -5.77M644.49 504.20h7.8M648.39 500.30v7.8M645.50 501.31l5.77 5.77M645.50 507.09l5.77 -5.77M650.85 502.30h7.8M654.75 498.40v7.8M651.86 499.41l5.77 5.77M651.86 505.19l5.77 -5.77M657.05 503.70h7.8M660.95 499.80v7.8M658.07 500.81l5.77 5.77M658.07 506.59l5.77 -5.77M663.11 495.60h7.8M667.01 491.70v7.8M664.12 492.71l5.77 5.77M664.12 498.49l5.77 -5.77M669.02 464.20h7.8M672.92 460.30v7.8M670.03 461.31l5.77 5.77M670.03 467.09l5.77 -5.77M674.79 468.00h7.8M678.69 464.10v7.8M675.81 465.11l5.77 5.77M675.81 470.89l5.77 -5.77M680.44 475.60h7.8M684.34 471.70v7.8M681.46 472.71l5.77 5.77M681.46 478.49l5.77 -5.77M685.96 421.20h7.8M689.86 417.30v7.8M686.98 418.31l5.77 5.77M686.98 424.09l5.77 -5.77M691.37 420.10h7.8M695.27 416.20v7.8M692.38 417.21l5.77 5.77M692.38 422.99l5.77 -5.77M696.66 456.90h7.8M700.56 453.00v7.8M697.67 454.01l5.77 5.77M697.67 459.79l5.77 -5.77M701.84 437.80h7.8M705.74 433.90v7.8M702.85 434.91l5.77 5.77M702.85 440.69l5.77 -5.77M706.91 456.60h7.8M710.81 452.70v7.8M707.93 453.71l5.77 5.77M707.93 459.49l5.77 -5.77M711.89 429.70h7.8M715.79 425.80v7.8M712.90 426.81l5.77 5.77M712.90 432.59l5.77 -5.77M716.77 426.60h7.8M720.67 422.70v7.8M717.78 423.71l5.77 5.77M717.78 429.49l5.77 -5.77M721.55 439.80h7.8M725.45 435.90v7.8M722.57 436.91l5.77 5.77M722.57 442.69l5.77 -5.77M726.25 446.80h7.8M730.15 442.90v7.8M727.27 443.91l5.77 5.77M727.27 449.69l5.77 -5.77M730.86 435.90h7.8M734.76 432.00v7.8M731.88 433.01l5.77 5.77M731.88 438.79l5.77 -5.77M735.39 414.50h7.8M739.29 410.60v7.8M736.40 411.61l5.77 5.77M736.40 417.39l5.77 -5.77M739.84 441.40h7.8M743.74 437.50v7.8M740.85 438.51l5.77 5.77M740.85 444.29l5.77 -5.77M744.21 430.00h7.8M748.11 426.10v7.8M745.22 427.11l5.77 5.77M745.22 432.89l5.77 -5.77M748.50 411.10h7.8M752.40 407.20v7.8M749.52 408.21l5.77 5.77M749.52 413.99l5.77 -5.77M752.72 437.20h7.8M756.62 433.30v7.8M753.74 434.31l5.77 5.77M753.74 440.09l5.77 -5.77M756.88 423.20h7.8M760.78 419.30v7.8M757.89 420.31l5.77 5.77M757.89 426.09l5.77 -5.77M760.96 403.00h7.8M764.86 399.10v7.8M761.98 400.11l5.77 5.77M761.98 405.89l5.77 -5.77M764.98 408.70h7.8M768.88 404.80v7.8M766.00 405.81l5.77 5.77M766.00 411.59l5.77 -5.77M768.94 398.90h7.8M772.84 395.00v7.8M769.95 396.01l5.77 5.77M769.95 401.79l5.77 -5.77M772.84 406.40h7.8M776.74 402.50v7.8M773.85 403.51l5.77 5.77M773.85 409.29l5.77 -5.77M776.67 403.30h7.8M780.57 399.40v7.8M777.69 400.41l5.77 5.77M777.69 406.19l5.77 -5.77M780.45 403.30h7.8M784.35 399.40v7.8M781.46 400.41l5.77 5.77M781.46 406.19l5.77 -5.77M784.17 413.40h7.8M788.07 409.50v7.8M785.19 410.51l5.77 5.77M785.19 416.29l5.77 -5.77M787.84 403.30h7.8M791.74 399.40v7.8M788.85 400.41l5.77 5.77M788.85 406.19l5.77 -5.77M791.46 391.60h7.8M795.36 387.70v7.8M792.47 388.71l5.77 5.77M792.47 394.49l5.77 -5.77M795.02 398.60h7.8M798.92 394.70v7.8M796.03 395.71l5.77 5.77M796.03 401.49l5.77 -5.77M798.53 397.10h7.8M802.43 393.20v7.8M799.55 394.21l5.77 5.77M799.55 399.99l5.77 -5.77M802.00 392.40h7.8M805.90 388.50v7.8M803.01 389.51l5.77 5.77M803.01 395.29l5.77 -5.77M805.42 385.40h7.8M809.32 381.50v7.8M806.43 382.51l5.77 5.77M806.43 388.29l5.77 -5.77M808.79 395.50h7.8M812.69 391.60v7.8M809.81 392.61l5.77 5.77M809.81 398.39l5.77 -5.77M812.12 389.30h7.8M816.02 385.40v7.8M813.13 386.41l5.77 5.77M813.13 392.19l5.77 -5.77M815.40 363.90h7.8M819.30 360.00v7.8M816.42 361.01l5.77 5.77M816.42 366.79l5.77 -5.77M818.65 339.80h7.8M822.55 335.90v7.8M819.66 336.91l5.77 5.77M819.66 342.69l5.77 -5.77M821.85 331.30h7.8M825.75 327.40v7.8M822.86 328.41l5.77 5.77M822.86 334.19l5.77 -5.77M825.01 325.00h7.8M828.91 321.10v7.8M826.02 322.11l5.77 5.77M826.02 327.89l5.77 -5.77M828.13 328.20h7.8M832.03 324.30v7.8M829.14 325.31l5.77 5.77M829.14 331.09l5.77 -5.77M831.21 335.10h7.8M835.11 331.20v7.8M832.23 332.21l5.77 5.77M832.23 337.99l5.77 -5.77M834.26 326.60h7.8M838.16 322.70v7.8M835.27 323.71l5.77 5.77M835.27 329.49l5.77 -5.77M837.27 301.70h7.8M841.17 297.80v7.8M838.28 298.81l5.77 5.77M838.28 304.59l5.77 -5.77M840.24 304.10h7.8M844.14 300.20v7.8M841.25 301.21l5.77 5.77M841.25 306.99l5.77 -5.77M843.18 271.50h7.8M847.08 267.60v7.8M844.19 268.61l5.77 5.77M844.19 274.39l5.77 -5.77M846.08 249.70h7.8M849.98 245.80v7.8M847.10 246.81l5.77 5.77M847.10 252.59l5.77 -5.77M848.95 270.00h7.8M852.85 266.10v7.8M849.97 267.11l5.77 5.77M849.97 272.89l5.77 -5.77M851.79 277.00h7.8M855.69 273.10v7.8M852.81 274.11l5.77 5.77M852.81 279.89l5.77 -5.77M854.60 279.00h7.8M858.50 275.10v7.8M855.62 276.11l5.77 5.77M855.62 281.89l5.77 -5.77M857.38 258.00h7.8M861.28 254.10v7.8M858.39 255.11l5.77 5.77M858.39 260.89l5.77 -5.77M860.12 268.20h7.8M864.02 264.30v7.8M861.14 265.31l5.77 5.77M861.14 271.09l5.77 -5.77M862.84 278.60h7.8M866.74 274.70v7.8M863.85 275.71l5.77 5.77M863.85 281.49l5.77 -5.77M865.53 292.00h7.8M869.43 288.10v7.8M866.54 289.11l5.77 5.77M866.54 294.89l5.77 -5.77M868.19 295.00h7.8M872.09 291.10v7.8M869.20 292.11l5.77 5.77M869.20 297.89l5.77 -5.77M870.82 307.30h7.8M874.72 303.40v7.8M871.83 304.41l5.77 5.77M871.83 310.19l5.77 -5.77M873.42 311.70h7.8M877.32 307.80v7.8M874.43 308.81l5.77 5.77M874.43 314.59l5.77 -5.77M876.00 315.50h7.8M879.90 311.60v7.8M877.01 312.61l5.77 5.77M877.01 318.39l5.77 -5.77M878.55 332.00h7.8M882.45 328.10v7.8M879.56 329.11l5.77 5.77M879.56 334.89l5.77 -5.77M881.07 320.00h7.8M884.97 316.10v7.8M882.09 317.11l5.77 5.77M882.09 322.89l5.77 -5.77M883.57 316.50h7.8M887.47 312.60v7.8M884.59 313.61l5.77 5.77M884.59 319.39l5.77 -5.77M886.05 309.70h7.8M889.95 305.80v7.8M887.06 306.81l5.77 5.77M887.06 312.59l5.77 -5.77M888.50 314.00h7.8M892.40 310.10v7.8M889.51 311.11l5.77 5.77M889.51 316.89l5.77 -5.77M890.93 316.50h7.8M894.83 312.60v7.8M891.94 313.61l5.77 5.77M891.94 319.39l5.77 -5.77M893.33 324.00h7.8M897.23 320.10v7.8M894.35 321.11l5.77 5.77M894.35 326.89l5.77 -5.77M895.71 327.50h7.8M899.61 323.60v7.8M896.73 324.61l5.77 5.77M896.73 330.39l5.77 -5.77M898.07 325.00h7.8M901.97 321.10v7.8M899.09 322.11l5.77 5.77M899.09 327.89l5.77 -5.77M900.41 301.00h7.8M904.31 297.10v7.8M901.43 298.11l5.77 5.77M901.43 303.89l5.77 -5.77M902.73 284.00h7.8M906.63 280.10v7.8M903.74 281.11l5.77 5.77M903.74 286.89l5.77 -5.77M905.02 270.70h7.8M908.92 266.80v7.8M906.04 267.81l5.77 5.77M906.04 273.59l5.77 -5.77M907.30 281.50h7.8M911.20 277.60v7.8M908.31 278.61l5.77 5.77M908.31 284.39l5.77 -5.77M909.55 291.60h7.8M913.45 287.70v7.8M910.56 288.71l5.77 5.77M910.56 294.49l5.77 -5.77M911.78 293.20h7.8M915.68 289.30v7.8M912.80 290.31l5.77 5.77M912.80 296.09l5.77 -5.77M914.00 296.30h7.8M917.90 292.40v7.8M915.01 293.41l5.77 5.77M915.01 299.19l5.77 -5.77M916.19 294.00h7.8M920.09 290.10v7.8M917.20 291.11l5.77 5.77M917.20 296.89l5.77 -5.77M918.37 293.20h7.8M922.27 289.30v7.8M919.38 290.31l5.77 5.77M919.38 296.09l5.77 -5.77M920.52 288.50h7.8M924.42 284.60v7.8M921.54 285.61l5.77 5.77M921.54 291.39l5.77 -5.77M922.66 296.30h7.8M926.56 292.40v7.8M923.68 293.41l5.77 5.77M923.68 299.19l5.77 -5.77M924.78 293.20h7.8M928.68 289.30v7.8M925.80 290.31l5.77 5.77M925.80 296.09l5.77 -5.77M926.88 290.00h7.8M930.78 286.10v7.8M927.90 287.11l5.77 5.77M927.90 292.89l5.77 -5.77M928.97 287.00h7.8M932.87 283.10v7.8M929.98 284.11l5.77 5.77M929.98 289.89l5.77 -5.77M931.04 282.70h7.8M934.94 278.80v7.8M932.05 279.81l5.77 5.77M932.05 285.59l5.77 -5.77M933.09 270.00h7.8M936.99 266.10v7.8M934.10 267.11l5.77 5.77M934.10 272.89l5.77 -5.77M935.12 267.00h7.8M939.02 263.10v7.8M936.14 264.11l5.77 5.77M936.14 269.89l5.77 -5.77M937.14 250.50h7.8M941.04 246.60v7.8M938.15 247.61l5.77 5.77M938.15 253.39l5.77 -5.77M939.14 229.00h7.8M943.04 225.10v7.8M940.16 226.11l5.77 5.77M940.16 231.89l5.77 -5.77M941.13 227.00h7.8M945.03 223.10v7.8M942.14 224.11l5.77 5.77M942.14 229.89l5.77 -5.77M943.10 225.00h7.8M947.00 221.10v7.8M944.11 222.11l5.77 5.77M944.11 227.89l5.77 -5.77" fill="none" stroke="#00ffff" stroke-width="1.6"/>
<polyline points="76.00,704.50 131.70,701.50 177.50,692.70 216.20,669.00 250.20,659.50 279.80,681.50 306.30,678.00 330.20,675.00 352.00,667.00 372.00,655.50 390.80,666.50 408.00,661.50 424.40,649.00 439.60,631.00 454.00,636.00 467.60,635.00 480.50,637.00 492.70,661.00 504.40,671.00 515.60,645.00 526.30,633.00 536.60,619.00 546.40,634.00 555.90,624.50 565.00,617.00 573.90,621.00 582.40,600.00 590.60,602.00 598.60,578.00 606.30,554.00 613.80,564.00 621.10,544.00 628.20,562.00 635.10,560.00 641.80,558.00 648.30,567.00 654.70,571.00 660.90,556.00 667.00,533.00 672.90,515.00 678.60,502.00 684.30,497.00 689.80,496.00 695.00,503.00 700.00,509.00 702.00,505.00 708.00,518.00 711.00,528.00 714.50,533.00 721.00,530.00 726.00,509.00 731.00,498.00 736.00,505.00 739.00,511.00 742.00,502.00 749.00,498.00 753.00,493.00 757.00,484.00 761.00,471.00 764.00,461.00 766.00,441.00 769.00,436.00 773.00,442.00 776.00,425.00 781.00,431.00 789.00,450.00 794.00,459.00 796.00,453.00 801.00,449.00 805.00,455.00 809.00,443.00 813.00,445.00 820.00,447.00 826.00,449.00 830.00,440.00 835.00,446.00 838.00,426.00 841.00,413.00 843.00,432.00 847.00,454.00 849.00,460.00 857.00,460.00 863.00,456.00 871.00,460.00 874.00,440.00 877.00,407.00 880.00,396.00 883.00,397.00 886.00,410.00 893.00,415.00 898.00,421.00 901.00,405.00 904.50,370.00 909.00,381.00 916.00,387.00 919.00,390.00 924.50,421.00 928.00,412.00 932.00,403.00 937.00,390.00 941.00,355.00 947.00,344.00" fill="none" stroke="#0000ff" stroke-width="1.8" stroke-dasharray="11 9.6" stroke-linejoin="round"/>
<rect x="84.2" y="9.8" width="316.0" height="183.5" fill="#fff" stroke="#000" stroke-width="2"/>
<path d="M94 30.00H146.5" stroke="#ff0000" stroke-width="1.8"/>
<path d="M117.50 27.20h5.6v5.6h-5.6z" fill="none" stroke="#ff0000" stroke-width="1.6"/>
<text transform="translate(151.4,40.80) scale(1.034,1)" font-size="23">m=4, capacity=2<tspan dy="-11.9" font-size="18">−23</tspan></text>
<path d="M94 65.75H146.5" stroke="#00ff00" stroke-width="1.8"/>
<circle cx="120.3" cy="65.75" r="3.55" fill="none" stroke="#00ff00" stroke-width="1.6"/>
<text transform="translate(151.4,76.55) scale(1.034,1)" font-size="23">m=7, capacity=2<tspan dy="-11.9" font-size="18">−22</tspan></text>
<path d="M94 101.50H146.5" stroke="#0000ff" stroke-width="1.8"/>
<path d="M116.70 101.50h7.2M120.30 97.90v7.2" fill="none" stroke="#0000ff" stroke-width="1.8"/>
<text transform="translate(151.4,112.30) scale(1.034,1)" font-size="23">m=10, capacity=2<tspan dy="-11.9" font-size="18">−21</tspan></text>
<path d="M94 137.25H146.5" stroke="#00ffff" stroke-width="1.8"/>
<path d="M116.40 137.25h7.8M120.30 133.35v7.8M117.41 134.36l5.77 5.77M117.41 140.14l5.77 -5.77" fill="none" stroke="#00ffff" stroke-width="1.6"/>
<text transform="translate(151.4,148.05) scale(1.034,1)" font-size="23">m=12, capacity=2<tspan dy="-11.9" font-size="18">−20.42</tspan></text>
<path d="M94 173.00H146.5" stroke="#0000ff" stroke-width="1.8" stroke-dasharray="11 9.6"/>
<text transform="translate(151.4,183.80) scale(1.034,1)" font-size="23">m=1, capacity=2<tspan dy="-11.9" font-size="18">−26</tspan></text>
</svg></body></html>
